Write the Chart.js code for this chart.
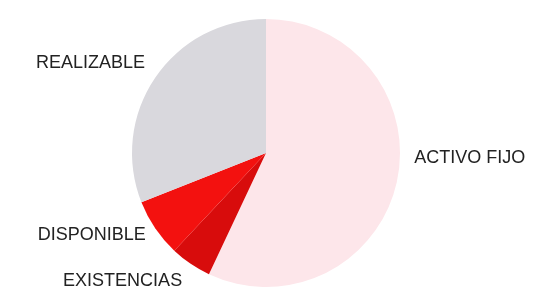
<!DOCTYPE html>
<html>
<head>
<meta charset="utf-8">
<script src="https://cdn.jsdelivr.net/npm/chart.js@4"></script>
<style>
    html, body { margin: 0; padding: 0; background: #ffffff; }
    #wrap { width: 549px; height: 291px; }
</style>
</head>
<body>
<div id="wrap"><canvas id="pie-chart" width="549" height="291"></canvas></div>
<script>
const categories = ['ACTIVO FIJO', 'EXISTENCIAS', 'DISPONIBLE', 'REALIZABLE'];
const shares = [57, 5, 7, 31];
const sliceColors = ['#fde6ea', '#d80c0c', '#f3110f', '#d9d8dd'];

// where each label sits, relative to the pie centre, in units of the radius
const labelSpots = {
    'ACTIVO FIJO': [1.52, 0.04],
    'EXISTENCIAS': [-1.07, 0.955],
    'DISPONIBLE': [-1.30, 0.61],
    'REALIZABLE': [-1.31, -0.67]
};

const outsideLabels = {
    id: 'outsideLabels',
    afterDatasetsDraw(chart) {
        const ctx = chart.ctx;
        const arcs = chart.getDatasetMeta(0).data;
        ctx.save();
        ctx.font = '18px "Liberation Sans", Arial, sans-serif';
        ctx.fillStyle = '#222222';
        ctx.textAlign = 'center';
        ctx.textBaseline = 'middle';
        arcs.forEach((arc, i) => {
            const spot = labelSpots[categories[i]];
            const r = arc.outerRadius;
            ctx.fillText(categories[i], arc.x + spot[0] * r, arc.y + spot[1] * r);
        });
        ctx.restore();
    }
};

function createChart() {
    const ctx = document.getElementById('pie-chart').getContext('2d');
    new Chart(ctx, {
        type: 'pie',
        data: {
            labels: categories,
            datasets: [{
                data: shares,
                backgroundColor: sliceColors,
                borderWidth: 0
            }]
        },
        options: {
            responsive: false,
            animation: false,
            layout: {
                padding: { left: 132, right: 149, top: 19, bottom: 4 }
            },
            plugins: {
                legend: { display: false },
                tooltip: { enabled: false }
            }
        },
        plugins: [outsideLabels]
    });
}

document.addEventListener('DOMContentLoaded', createChart);
</script>
</body>
</html>
